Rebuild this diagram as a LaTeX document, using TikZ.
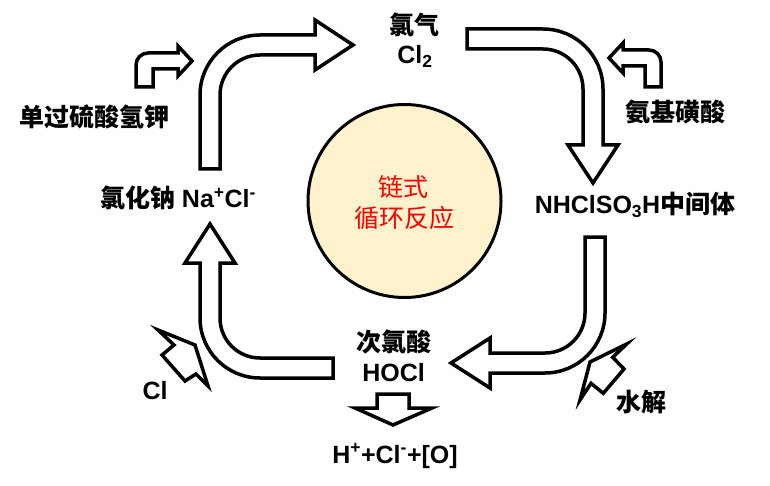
\documentclass[tikz,border=0pt]{standalone}
\usepackage{fontspec}
\setmainfont{Liberation Sans}
\newfontfamily\cjk{Noto Sans CJK SC}
\definecolor{circfill}{HTML}{FFF2CC}
\begin{document}
\begin{tikzpicture}[x=1pt,y=-1pt,
  blk/.style={draw=black, line width=3.5pt, fill=white, line join=miter},
  lbl/.style={inner sep=0pt, anchor=base, font=\fontsize{25}{30}\selectfont\bfseries},
  redlbl/.style={inner sep=0pt, anchor=base, text=red, font=\fontsize{25}{30}\selectfont\cjk}]
\useasboundingbox (0,0) rectangle (770,486);
% centre circle
\draw[line width=3pt, fill=circfill] (404.5,201) circle[radius=96.5];
\node[redlbl] (t1) at (403,196.5) {链式};
\node[redlbl] (t2) at (404,227.5) {循环反应};
% big arrow top-left
\draw[blk] (200,169) -- (200,95) .. controls (200,61.9) and (226.9,35) .. (260,35)
  -- (315,35) -- (315,20) -- (353,45) -- (315,70) -- (315,55) -- (260,55)
  .. controls (237.9,55) and (220,72.9) .. (220,95) -- (220,169) -- cycle;
% big arrow top-right
\draw[blk] (467,29) -- (543,29) .. controls (576.1,29) and (603,55.9) .. (603,89)
  -- (603,145) -- (618,145) -- (593,183) -- (568,145) -- (583,145) -- (583,89)
  .. controls (583,66.9) and (565.1,49) .. (543,49) -- (467,49) -- cycle;
% big arrow bottom-right
\draw[blk] (585,237) -- (605,237) -- (605,313) .. controls (605,346.1) and (578.1,373) .. (545,373)
  -- (490,373) -- (490,388) -- (451,363) -- (490,338) -- (490,353) -- (545,353)
  .. controls (567.1,353) and (585,335.1) .. (585,313) -- cycle;
% big arrow bottom-left
\draw[blk] (333,358) -- (333,378) -- (260,378) .. controls (226.9,378) and (200,351.1) .. (200,318)
  -- (200,263) -- (185,263) -- (210,224) -- (235,263) -- (220,263) -- (220,318)
  .. controls (220,340.1) and (237.9,358) .. (260,358) -- cycle;
% small bent arrow top-left
\draw[blk] (136,87) -- (136,65) .. controls (136,58.4) and (141.4,53) .. (148,53)
  -- (178,53) -- (178,46) -- (192,61) -- (178,76) -- (178,69) -- (153,69) -- (153,87) -- cycle;
% small bent arrow top-right
\draw[blk] (661,87) -- (661,62) .. controls (661,55.4) and (655.6,50) .. (649,50)
  -- (623,50) -- (623,43) -- (609,58) -- (623,73) -- (623,66) -- (645,66) -- (645,87) -- cycle;
% Cl arrow
\draw[blk] (158,330) -- (195,345) -- (208,386) -- (196,374) -- (185,381) -- (162,355) -- (174,345) -- cycle;
% water arrow
\draw[blk] (626.7,344) -- (612.7,357.3) -- (624,369) -- (603.3,393.3) -- (591,383.3) -- (580,400) -- (590,362) -- cycle;
% down arrow
\draw[blk] (377,394) -- (409,394) -- (409,408) -- (432,408) -- (393,425) -- (355,408) -- (377,408) -- cycle;
% labels
\node[lbl] (cl2a) at (414.5,34.5) {\cjk 氯气};
\node[lbl] (cl2b) at (415,64) {Cl\textsubscript{2}};
\node[lbl] (ams) at (675.5,121.5) {\cjk 氨基磺酸};
\node[lbl] (mid) at (635,213.5) {NHClSO\textsubscript{3}H{\cjk 中间体}};
\node[lbl] (pms) at (94.5,126.5) {\cjk 单过硫酸氢钾};
\node[lbl] (nacl) at (178,207.5) {{\cjk 氯化钠} Na\textsuperscript{+}Cl\textsuperscript{-}};
\node[lbl] (hocla) at (393.5,351.5) {\cjk 次氯酸};
\node[lbl] (hoclb) at (393.5,381) {HOCl};
\node[lbl] (cl) at (155,399) {Cl};
\node[lbl] (water) at (641.5,411.5) {\cjk 水解};
\node[lbl] (prod) at (395,463) {H\textsuperscript{+}+Cl\textsuperscript{-}+[O]};
\end{tikzpicture}
\end{document}
